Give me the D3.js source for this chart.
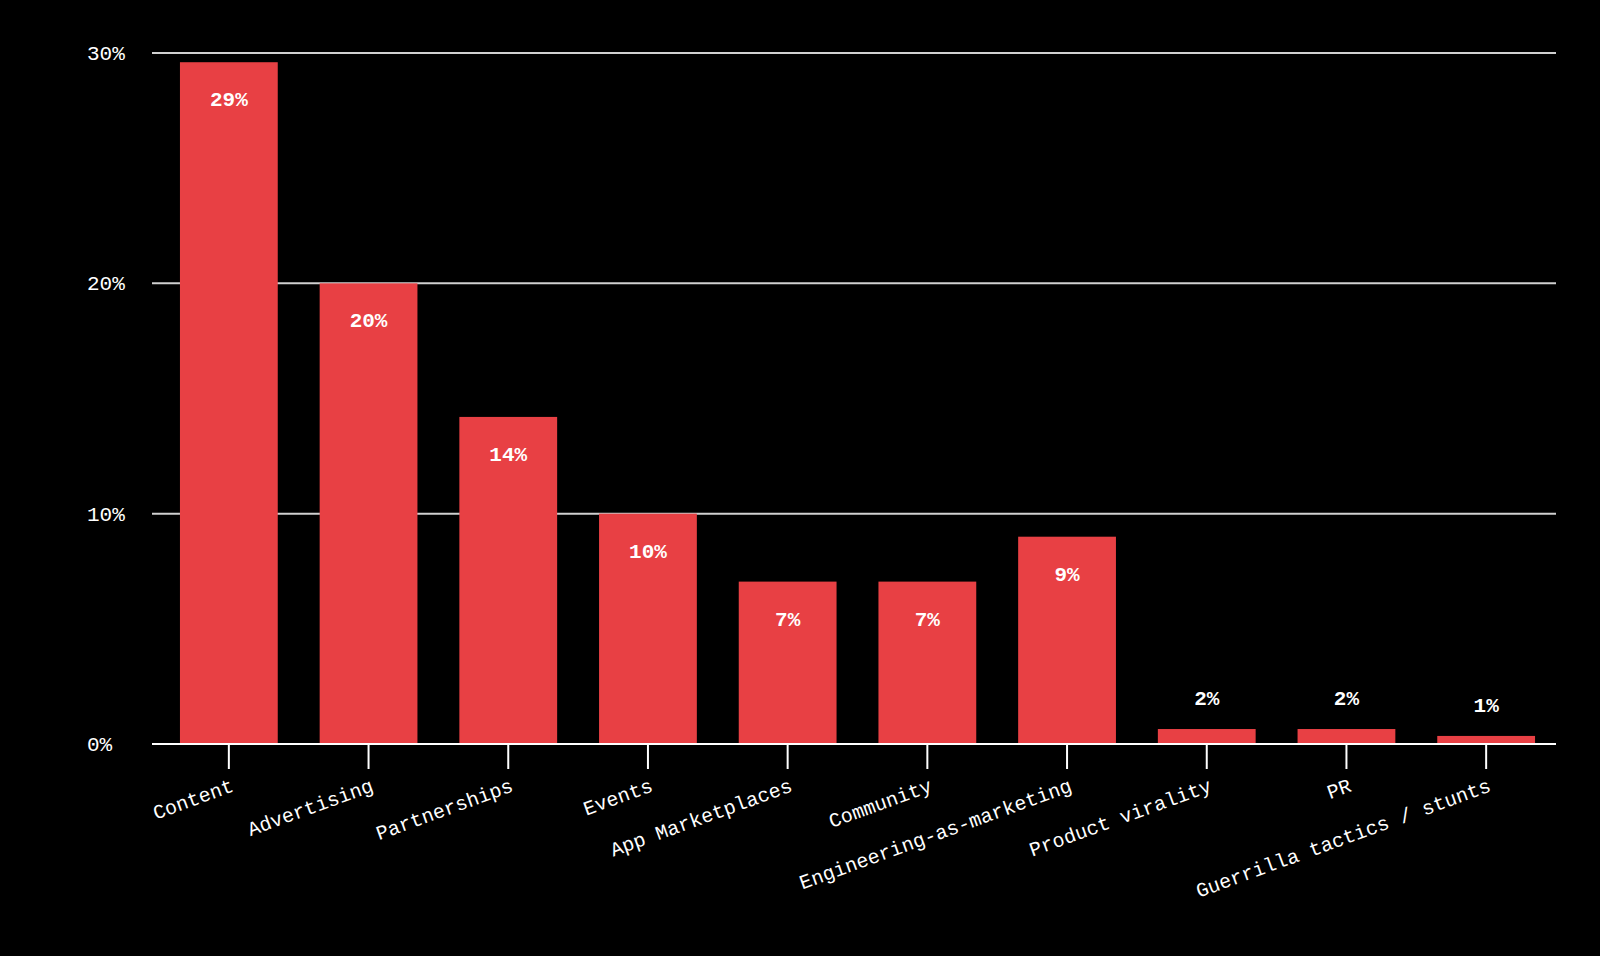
<!DOCTYPE html>
<html><head><meta charset="utf-8">
<script src="https://cdn.jsdelivr.net/npm/d3@7"></script>
<style>body{margin:0;background:#000}</style>
</head><body>
<svg id="chart" width="1600" height="956"></svg>
<script>
const categories = ['Content','Advertising','Partnerships','Events','App Marketplaces','Community','Engineering-as-marketing','Product virality','PR','Guerrilla tactics / stunts'];
const values = [29.6, 20, 14.2, 10, 7.05, 7.05, 9, 0.65, 0.65, 0.35];
const labels = ['29%','20%','14%','10%','7%','7%','9%','2%','2%','1%'];
const yTicks = [0, 10, 20, 30];

(function () {
const svg = d3.select('#chart');
const mLeft = 152, mRight = 1556, mTop = 53, mBottom = 744;
const x = d3.scaleBand().domain(categories).range([159, mRight]).paddingInner(0.3).paddingOuter(0.15);
const y = d3.scaleLinear().domain([0, 30]).range([mBottom, mTop]);
const font = '"Liberation Mono", "DejaVu Sans Mono", monospace';

svg.append('g').selectAll('line').data(yTicks).enter().append('line')
  .attr('x1', mLeft).attr('x2', mRight).attr('y1', d => y(d)).attr('y2', d => y(d))
  .attr('stroke', '#d0d0d0').attr('stroke-width', 2);
svg.append('g').selectAll('text').data(yTicks).enter().append('text')
  .attr('x', 87).attr('y', d => y(d) + 7).attr('fill', '#fff')
  .attr('font-family', font).attr('font-size', 21).text(d => d + '%');

svg.append('g').selectAll('rect').data(values).enter().append('rect')
  .attr('x', (d, i) => x(categories[i])).attr('width', x.bandwidth())
  .attr('y', d => y(d)).attr('height', d => mBottom - y(d)).attr('fill', '#e84044');

svg.append('g').selectAll('text').data(values).enter().append('text')
  .attr('x', (d, i) => x(categories[i]) + x.bandwidth() / 2)
  .attr('y', d => d > 3 ? y(d) + 44 : y(d) - 24)
  .attr('text-anchor', 'middle').attr('fill', '#fff').attr('font-weight', 'bold')
  .attr('font-family', font).attr('font-size', 21).text((d, i) => labels[i]);

svg.append('line').attr('x1', mLeft).attr('x2', mRight).attr('y1', mBottom).attr('y2', mBottom)
  .attr('stroke', '#fff').attr('stroke-width', 2);
const tk = svg.append('g').selectAll('g').data(categories).enter().append('g')
  .attr('transform', d => `translate(${x(d) + x.bandwidth() / 2},${mBottom})`);
tk.append('line').attr('y2', 25).attr('stroke', '#fff').attr('stroke-width', 2);
tk.append('text').attr('text-anchor', 'end').attr('fill', '#fff')
  .attr('font-family', font).attr('font-size', 20)
  .attr('transform', 'translate(6,47) rotate(-20)').text(d => d);
})();
</script>
</body></html>
